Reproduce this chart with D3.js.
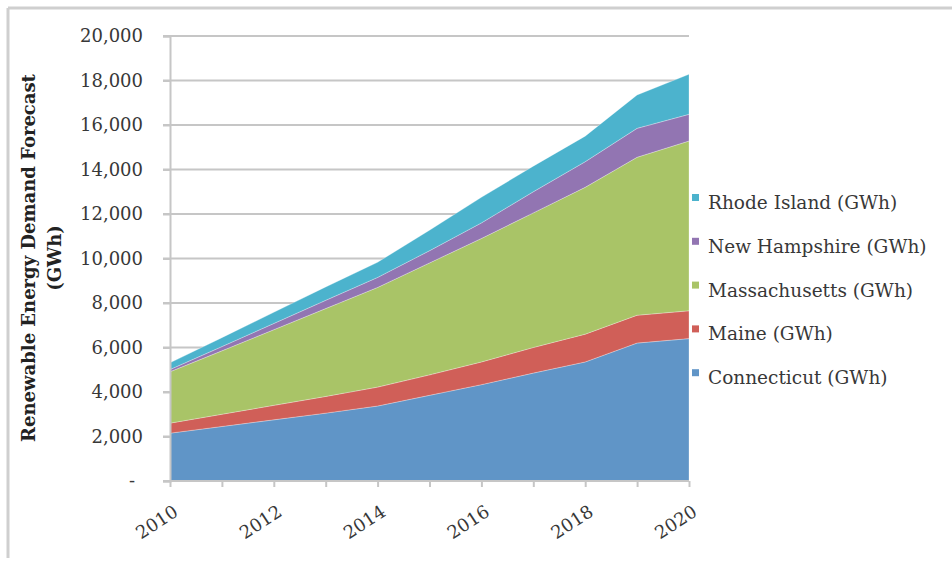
<!DOCTYPE html>
<html>
<head>
<meta charset="utf-8">
<script src="https://cdn.jsdelivr.net/npm/d3@7"></script>
<style>
  body { margin: 0; background: #ffffff; }
  svg { display: block; }
</style>
</head>
<body>
<svg id="chart" width="952" height="563"></svg>
<script>
// Renewable energy demand forecast by state, GWh
const years = [2010, 2011, 2012, 2013, 2014, 2015, 2016, 2017, 2018, 2019, 2020];
const connecticut   = [2150, 2450, 2750, 3050, 3370, 3850, 4330, 4850, 5350, 6200, 6400];
const maine         = [450, 550, 650, 750, 850, 920, 1020, 1150, 1250, 1250, 1250];
const massachusetts = [2310, 2850, 3400, 3950, 4480, 5030, 5550, 6050, 6600, 7100, 7630];
const newHampshire  = [100, 190, 280, 370, 450, 550, 700, 950, 1150, 1300, 1200];
const rhodeIsland   = [300, 400, 500, 600, 680, 920, 1150, 1150, 1150, 1500, 1800];

const seriesKeys   = ["Connecticut (GWh)", "Maine (GWh)", "Massachusetts (GWh)", "New Hampshire (GWh)", "Rhode Island (GWh)"];
const seriesValues = [connecticut, maine, massachusetts, newHampshire, rhodeIsland];
const seriesColors = ["#6095c7", "#d05f58", "#a9c467", "#9275b2", "#4cb3cd"];

const yTickValues = [0, 2000, 4000, 6000, 8000, 10000, 12000, 14000, 16000, 18000, 20000];
const xTickLabels = [2010, 2012, 2014, 2016, 2018, 2020];
const yTitleLines = ["Renewable Energy Demand Forecast", "(GWh)"];

// Rows for d3.stack
const rows = years.map((yr, i) => {
  const r = { year: yr };
  seriesKeys.forEach((k, j) => { r[k] = seriesValues[j][i]; });
  return r;
});

const svg = d3.select("#chart");
const serif = "'DejaVu Serif', 'Liberation Serif', serif";
const grid = "#c6c6c6";
const labelColor = "#383838";

// outer frame edges
svg.append("line").attr("x1", 8).attr("x2", 952).attr("y1", 8).attr("y2", 8)
  .attr("stroke", "#cfcfcf").attr("stroke-width", 3);
svg.append("line").attr("x1", 8).attr("x2", 8).attr("y1", 8).attr("y2", 558)
  .attr("stroke", "#cfcfcf").attr("stroke-width", 3);

const plot = { left: 170, right: 689, top: 36, bottom: 481 };

const x = d3.scaleLinear().domain([2010, 2020]).range([plot.left, plot.right]);
const y = d3.scaleLinear().domain([0, 20000]).range([plot.bottom, plot.top]);

// horizontal gridlines
svg.append("g")
  .selectAll("line")
  .data(yTickValues.filter(v => v > 0))
  .join("line")
  .attr("x1", plot.left - 7).attr("x2", plot.right)
  .attr("y1", d => y(d)).attr("y2", d => y(d))
  .attr("stroke", grid).attr("stroke-width", 2);

// stacked areas
const stack = d3.stack().keys(seriesKeys);
const layers = stack(rows);
const area = d3.area()
  .x(d => x(d.data.year))
  .y0(d => y(d[0]))
  .y1(d => y(d[1]));

svg.append("g")
  .selectAll("path")
  .data(layers)
  .join("path")
  .attr("d", area)
  .attr("fill", (d, i) => seriesColors[i])
  .attr("stroke", "rgba(255,255,255,0.35)")
  .attr("stroke-width", 0.8);

// y axis
const yAxis = d3.axisLeft(y)
  .tickValues(yTickValues)
  .tickSize(7)
  .tickPadding(20)
  .tickFormat(d => d === 0 ? "-" : d3.format(",")(d));
const gy = svg.append("g").attr("transform", `translate(${plot.left},0)`).call(yAxis);
gy.select(".domain").attr("stroke", grid).attr("stroke-width", 2);
gy.selectAll(".tick line").attr("stroke", grid).attr("stroke-width", 2);
gy.selectAll(".tick text")
  .attr("font-family", serif).attr("font-size", 18).attr("fill", labelColor);
gy.selectAll(".tick text").filter(d => d === 0).attr("dx", -8);

// x axis
const xAxis = d3.axisBottom(x)
  .ticks(10)
  .tickSize(6)
  .tickFormat(d => xTickLabels.includes(d) ? String(d) : "");
const gx = svg.append("g").attr("transform", `translate(0,${plot.bottom})`).call(xAxis);
gx.select(".domain").remove();
svg.append("line")
  .attr("x1", plot.left - 7).attr("x2", plot.right)
  .attr("y1", plot.bottom).attr("y2", plot.bottom)
  .attr("stroke", grid).attr("stroke-width", 2);
gx.selectAll(".tick line").attr("stroke", grid).attr("stroke-width", 2);
gx.selectAll(".tick text")
  .attr("font-family", serif).attr("font-size", 18).attr("fill", labelColor)
  .attr("text-anchor", "end")
  .attr("transform", "translate(2,23) rotate(-33)")
  .attr("dy", "0.71em")
  .attr("y", 0);

// y axis title, two lines, rotated
const titleCenterY = 258;
const titleX = [35, 61];
yTitleLines.forEach((line, i) => {
  svg.append("text")
    .attr("transform", `translate(${titleX[i]},${titleCenterY}) rotate(-90)`)
    .attr("text-anchor", "middle")
    .attr("font-family", serif)
    .attr("font-weight", "bold")
    .attr("font-size", 18)
    .attr("fill", "#222222")
    .text(line);
});

// legend, top series first
const legendOrder = seriesKeys.map((k, i) => ({ name: k, color: seriesColors[i] })).reverse();
const legend = svg.append("g");
const lg = legend.selectAll("g")
  .data(legendOrder)
  .join("g")
  .attr("transform", (d, i) => `translate(692,${203 + i * 43.8})`);
lg.append("rect")
  .attr("x", 0).attr("y", -9).attr("width", 7).attr("height", 7)
  .attr("fill", d => d.color);
lg.append("text")
  .attr("x", 16).attr("y", 0).attr("dy", "0.32em")
  .attr("font-family", serif).attr("font-size", 18.5).attr("fill", labelColor)
  .text(d => d.name);
</script>
</body>
</html>
